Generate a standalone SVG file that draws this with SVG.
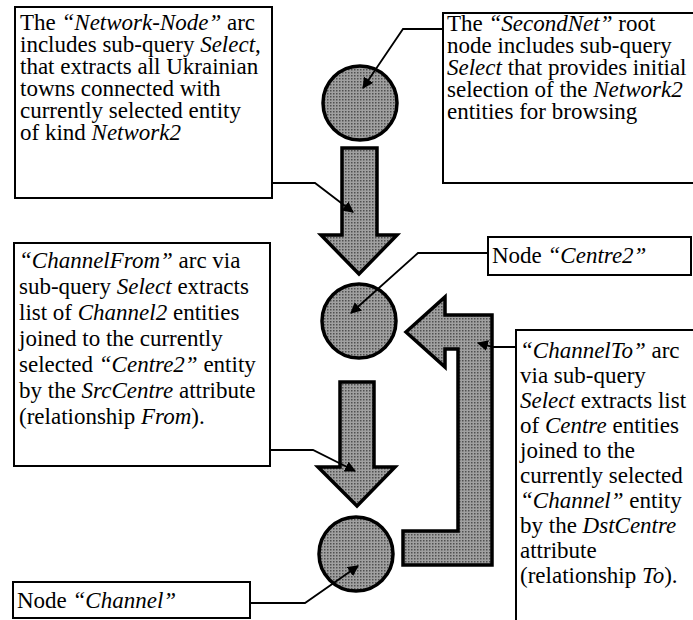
<svg xmlns="http://www.w3.org/2000/svg" width="693" height="620" viewBox="0 0 693 620">
<defs>
<pattern id="dots" width="3" height="3" patternUnits="userSpaceOnUse">
<rect width="3" height="3" fill="#a0a0a0"/>
<rect width="1.5" height="1.5" fill="#505050"/>
</pattern>
<marker id="ah" viewBox="0 0 10 10" refX="9" refY="5" markerWidth="11" markerHeight="11" markerUnits="userSpaceOnUse" orient="auto">
<path d="M0,0 L10,5 L0,10 z" fill="#000"/>
</marker>
<style>
.t{font-family:'Liberation Serif','Times New Roman',serif;font-size:23px;fill:#000}
.i{font-style:italic}
.box{fill:#fff;stroke:#000;stroke-width:2}
.shape{fill:url(#dots);stroke:#000;stroke-width:3.5;stroke-linejoin:miter}
.lead{fill:none;stroke:#000;stroke-width:1.8;marker-end:url(#ah)}
</style>
</defs>
<rect width="693" height="620" fill="#fff"/>

<g id="shapes">
<g id="circle1"><circle class="shape" cx="360" cy="103" r="37"/></g>
<g id="arrow1"><polygon class="shape" points="342,148 377,148 377,235 397,235 359,274 321,235 342,235"/></g>
<g id="circle2"><circle class="shape" cx="359" cy="321" r="37"/></g>
<g id="arrow2"><polygon class="shape" points="340,382 374,382 374,467 395,467 357,506 318,467 340,467"/></g>
<g id="circle3"><circle class="shape" cx="356" cy="554" r="37"/></g>
<g id="arrowU"><polygon class="shape" points="406,332 445,297 445,315 492,315 492,565 403,565 403,531 458,531 458,349 445,349 445,367"/></g>
</g>

<g id="box-network-node" class="t" font-family="Liberation Serif, Times New Roman, serif">
<rect class="box" x="15" y="7" width="257" height="191"/>
<text x="20" y="30">The <tspan class="i">“Network-Node”</tspan> arc</text>
<text x="20" y="52">includes sub-query <tspan class="i">Select</tspan>,</text>
<text x="20" y="74">that extracts all Ukrainian</text>
<text x="20" y="96">towns connected with</text>
<text x="20" y="118">currently selected entity</text>
<text x="20" y="140">of kind <tspan class="i">Network2</tspan></text>
</g>

<g id="box-secondnet" class="t" font-family="Liberation Serif, Times New Roman, serif">
<rect class="box" x="443" y="13" width="260" height="170"/>
<text x="447" y="31">The <tspan class="i">“SecondNet”</tspan> root</text>
<text x="447" y="53">node includes sub-query</text>
<text x="447" y="75"><tspan class="i">Select</tspan> that provides initial</text>
<text x="447" y="97">selection of the <tspan class="i">Network2</tspan></text>
<text x="447" y="119">entities for browsing</text>
</g>

<g id="box-channelfrom" class="t" font-family="Liberation Serif, Times New Roman, serif">
<rect class="box" x="14" y="243" width="256" height="223"/>
<text x="19" y="268"><tspan class="i">“ChannelFrom”</tspan> arc via</text>
<text x="19" y="294">sub-query <tspan class="i">Select</tspan> extracts</text>
<text x="19" y="320">list of <tspan class="i">Channel2</tspan> entities</text>
<text x="19" y="346">joined to the currently</text>
<text x="19" y="372">selected <tspan class="i">“Centre2”</tspan> entity</text>
<text x="19" y="398">by the <tspan class="i">SrcCentre</tspan> attribute</text>
<text x="19" y="424">(relationship <tspan class="i">From</tspan>).</text>
</g>

<g id="box-centre2" class="t" font-family="Liberation Serif, Times New Roman, serif">
<rect class="box" x="488" y="237" width="203" height="38"/>
<text x="492" y="263">Node <tspan class="i">“Centre2”</tspan></text>
</g>

<g id="box-channelto" class="t" font-family="Liberation Serif, Times New Roman, serif">
<path d="M516,622 V330 H695" fill="none" stroke="#000" stroke-width="2"/>
<text x="520" y="358"><tspan class="i">“ChannelTo”</tspan> arc</text>
<text x="520" y="383">via sub-query</text>
<text x="520" y="408"><tspan class="i">Select</tspan> extracts list</text>
<text x="520" y="433">of <tspan class="i">Centre</tspan> entities</text>
<text x="520" y="458">joined to the</text>
<text x="520" y="483">currently selected</text>
<text x="520" y="508"><tspan class="i">“Channel”</tspan> entity</text>
<text x="520" y="533">by the <tspan class="i">DstCentre</tspan></text>
<text x="520" y="558">attribute</text>
<text x="520" y="583">(relationship <tspan class="i">To</tspan>).</text>
</g>

<g id="box-channel" class="t" font-family="Liberation Serif, Times New Roman, serif">
<rect class="box" x="13" y="582" width="237" height="36"/>
<text x="17" y="608">Node <tspan class="i">“Channel”</tspan></text>
</g>

<g id="connectors">
<polyline class="lead" points="443,29 403,29 363,88"/>
<polyline class="lead" points="272,183 315,183 353,212"/>
<polyline class="lead" points="488,253 418,253 351,313"/>
<polyline class="lead" points="516,347 493,347 478,343"/>
<polyline class="lead" points="270,450 313,450 355,471"/>
<polyline class="lead" points="250,603 305,603 358,566"/>
</g>
</svg>
